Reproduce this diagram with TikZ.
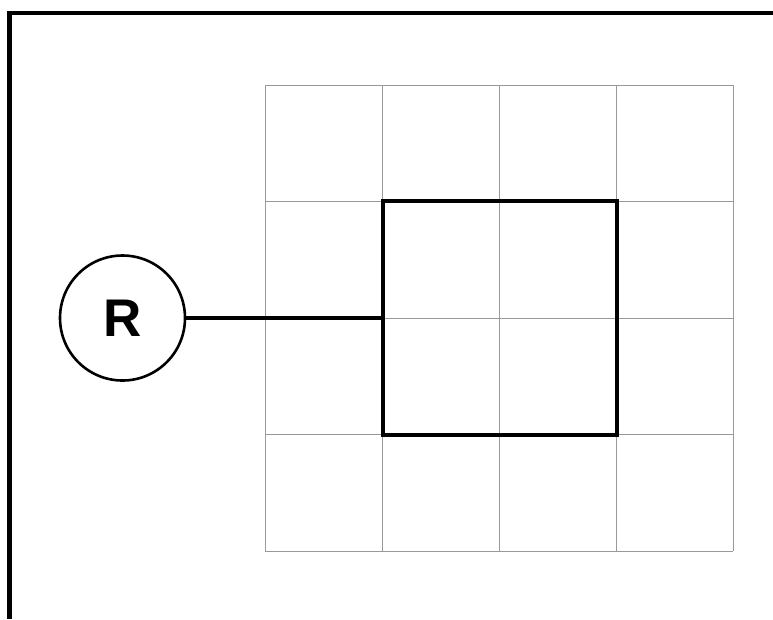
\documentclass[tikz,border=0pt]{standalone}
\usepackage{fontspec}
\setmainfont{Liberation Sans}
\begin{document}
\begin{tikzpicture}[x=1pt,y=-1pt,
  gridline/.style={draw=black!40,line width=1pt},
  framebar/.style={draw=black,line width=4.5pt},
  thickbox/.style={draw=black,line width=4pt,minimum width=234pt,minimum height=234pt,inner sep=0pt},
  rcircle/.style={circle,draw=black,line width=2.6pt,minimum size=125pt,inner sep=0pt,font=\fontsize{53}{53}\selectfont\bfseries},
  link/.style={draw=black,line width=3.2pt}]
\useasboundingbox (0,0) rectangle (773,619);
% frame (only top and left edges visible)
\draw[framebar] (773,13) -- (9.5,13) -- (9.5,619);
% grid
\foreach \i in {0,...,4} {
  \draw[gridline] (265+117*\i,85) -- (265+117*\i,551);
  \draw[gridline] (265,85+116.5*\i) -- (733,85+116.5*\i);
}
% thick square
\node[thickbox] (sq) at (500,318) {};
% R circle
\node[rcircle] (R) at (122.5,318) {R};
\draw[link] (R) -- (sq.west);
\end{tikzpicture}
\end{document}
